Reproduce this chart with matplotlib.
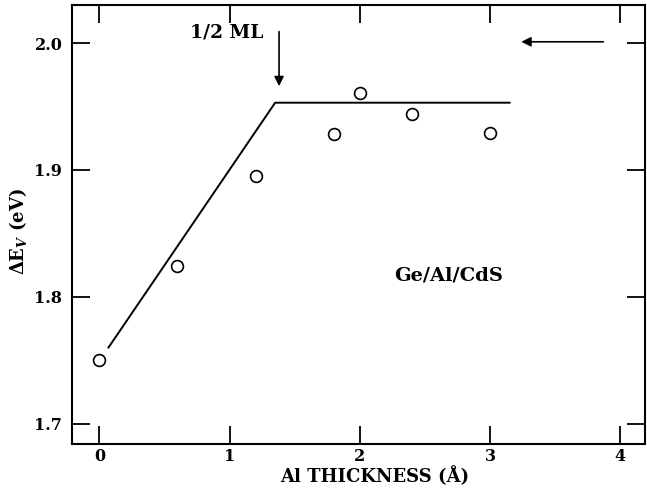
import matplotlib
matplotlib.use("Agg")
import matplotlib.pyplot as plt

plt.rcParams['font.family'] = ['DejaVu Serif']
plt.rcParams['font.weight'] = 'bold'
plt.rcParams['mathtext.fontset'] = 'custom'
plt.rcParams['mathtext.rm'] = 'DejaVu Serif:bold'
plt.rcParams['mathtext.it'] = 'DejaVu Serif:italic:bold'
plt.rcParams['mathtext.bf'] = 'DejaVu Serif:bold'

# data
thickness = [0.0, 0.6, 1.2, 1.8, 2.0, 2.4, 3.0]
delta_ev = [1.750, 1.824, 1.895, 1.928, 1.961, 1.944, 1.929]
fit_x = [0.07, 1.35, 3.15]
fit_y = [1.760, 1.953, 1.953]
xticks = [0, 1, 2, 3, 4]
yticks = [1.7, 1.8, 1.9, 2.0]

fig = plt.figure(figsize=(6.47, 4.94), dpi=100)
ax = fig.add_axes([72/647, 1-444/494, 573/647, 439/494])

ax.plot(fit_x, fit_y, color='black', lw=1.4)
ax.plot(thickness, delta_ev, 'o', ms=8.5, mfc='white', mec='black', mew=1.2)

ax.set_xlim(-0.21, 4.19)
ax.set_ylim(1.684, 2.030)
ax.set_xticks(xticks)
ax.set_xticklabels([str(t) for t in xticks])
ax.set_yticks(yticks)
ax.set_yticklabels([f"{t:.1f}" for t in yticks])
ax.tick_params(direction='in', length=13, width=1.3, top=True, right=True,
               labelsize=11.5)
ax.tick_params(axis='x', pad=3)
ax.tick_params(axis='y', pad=7)
for lab in ax.get_xticklabels() + ax.get_yticklabels():
    lab.set_fontweight('bold')
for s in ax.spines.values():
    s.set_linewidth(1.5)

ax.set_xlabel('Al THICKNESS (Å)', fontsize=13, fontweight='bold')
ax.xaxis.set_label_coords(0.529, -0.074)
ax.xaxis.label.set_va('center')
ax.set_ylabel(r'$\Delta$E$_V$ (eV)', fontsize=13, fontweight='bold')
ax.yaxis.set_label_coords(-0.094, 0.485)
ax.yaxis.label.set_va('center')

ax.annotate('', xy=(1.38, 1.966), xytext=(1.38, 2.009),
            arrowprops=dict(arrowstyle='-|>', color='black', lw=1.2,
                            mutation_scale=14, shrinkA=0, shrinkB=0))
ax.text(0.98, 2.008, '1/2 ML', ha='center', va='center', fontsize=13.5, fontweight='bold')

ax.annotate('', xy=(3.24, 2.001), xytext=(3.87, 2.001),
            arrowprops=dict(arrowstyle='-|>', color='black', lw=1.2,
                            mutation_scale=14, shrinkA=0, shrinkB=0))

ax.text(2.68, 1.817, 'Ge/Al/CdS', ha='center', va='center', fontsize=14, fontweight='bold')

fig.savefig('out.png', dpi=100)
